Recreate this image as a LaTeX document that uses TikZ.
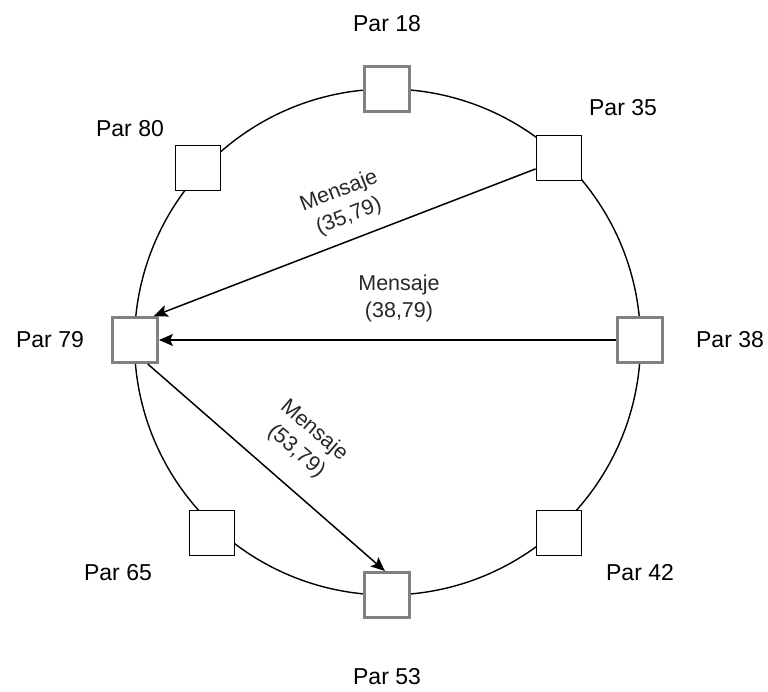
\documentclass[tikz,border=0pt]{standalone}
\usepackage{fontspec}
\setmainfont{Liberation Sans}
\usetikzlibrary{arrows.meta}
\definecolor{framegray}{RGB}{128,128,128}
\definecolor{msgtext}{RGB}{40,40,40}
\begin{document}
\begin{tikzpicture}[x=1pt,y=-1pt,
  peer/.style={draw=black,line width=1.8pt,fill=white,minimum size=45pt,inner sep=0pt},
  peerhi/.style={draw=framegray,line width=3pt,fill=white,minimum size=45pt,inner sep=0pt},
  peername/.style={font=\fontsize{23}{28}\selectfont,text=black,inner sep=0pt},
  msg/.style={font=\fontsize{21.5}{27}\selectfont,text=msgtext,align=center,inner sep=0pt},
  msgline/.style={line width=1.5pt,-{Stealth[length=14pt,width=12pt,inset=3pt]}}]
\useasboundingbox (0,0) rectangle (768,691);

% ring
\draw[line width=1.4pt] (387.5,342) circle[radius=253];

% peers on the ring
\node[peerhi] (p18) at (387,89) {};
\node[peer]   (p35) at (559,158) {};
\node[peer]   (p80) at (198,168) {};
\node[peerhi] (p79) at (135,340) {};
\node[peerhi] (p38) at (640,340) {};
\node[peer]   (p65) at (212,533) {};
\node[peer]   (p42) at (559,533) {};
\node[peerhi] (p53) at (387,595) {};

% peer names
\node[peername] (n18) at (387,24)  {Par 18};
\node[peername] (n35) at (623,108) {Par 35};
\node[peername] (n80) at (130,129) {Par 80};
\node[peername] (n79) at (50,340)  {Par 79};
\node[peername] (n38) at (730,340) {Par 38};
\node[peername] (n65) at (118,573) {Par 65};
\node[peername] (n42) at (640,573) {Par 42};
\node[peername] (n53) at (387,677) {Par 53};

% messages towards peer 79
\draw[msgline] (p35.205) -- (p79.52);
\draw[msgline] (p38.west) -- (p79.east);
\draw[msgline] (p79.-62) -- (p53.95);

% message labels
\node[msg,rotate=21.5] (m35) at (344,204) {Mensaje\\(35,79)};
\node[msg] (m38) at (399,298) {Mensaje\\(38,79)};
\node[msg,rotate=-41] (m53) at (305,441) {Mensaje\\(53,79)};
\end{tikzpicture}
\end{document}
